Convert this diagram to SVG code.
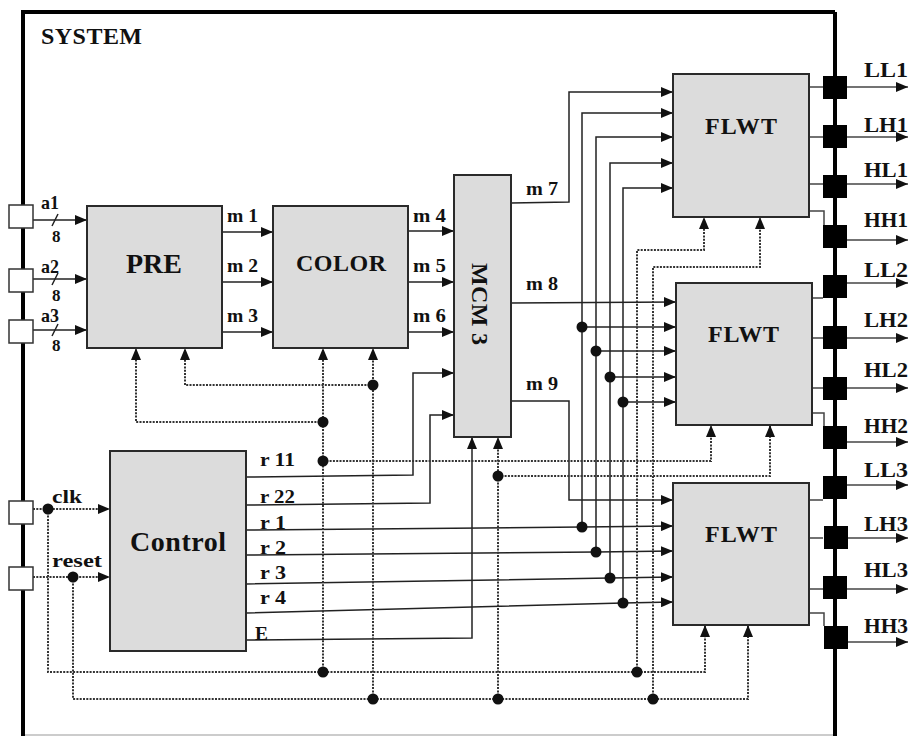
<svg xmlns="http://www.w3.org/2000/svg" width="909" height="736" viewBox="0 0 909 736">
<defs>
<marker id="ah" markerWidth="12" markerHeight="10" refX="12" refY="5" orient="auto" markerUnits="userSpaceOnUse"><path d="M0,0 L12,5 L0,10 z" fill="#111"/></marker>
</defs>
<style>
.blk{fill:#dcdcdc;stroke:#2a2a2a;stroke-width:2}
.w{fill:none;stroke:#222;stroke-width:1.5}
.o{fill:none;stroke:#444;stroke-width:1.5}
.d{fill:none;stroke:#333;stroke-width:2;stroke-dasharray:2 1.3}
.a{marker-end:url(#ah)}
.dot{fill:#111}
.pin{fill:#fff;stroke:#333;stroke-width:1.5}
.sq{fill:#000}
text{font-family:"Liberation Serif","Times New Roman",serif;font-weight:bold;fill:#111}
.big{font-size:24px}
.sm text{font-size:19px}
.out text{font-size:20px}
</style>
<rect x="0" y="0" width="909" height="736" fill="#fff"/>
<g id="system">
<path d="M22,735 H835" stroke="#999" stroke-width="1" fill="none"/>
<path d="M23,736 V12 H835" stroke="#000" stroke-width="4" fill="none"/>
<path d="M835,12 V736" stroke="#000" stroke-width="4" fill="none"/>
<text x="41" y="44" font-size="24" textLength="101">SYSTEM</text>
</g>
<g id="connectors">
<path class="w a" d="M33,220 H87"/>
<path class="w a" d="M33,279 H87"/>
<path class="w a" d="M33,330 H87"/>
<path class="w" d="M52,226 L58,214 M52,285 L58,273 M52,336 L58,324"/>
<path class="w a" d="M222,232 H273"/>
<path class="w a" d="M222,282 H273"/>
<path class="w a" d="M222,332 H273"/>
<path class="w a" d="M408,231 H454"/>
<path class="w a" d="M408,282 H454"/>
<path class="w a" d="M408,332 H454"/>
<path class="w a" d="M246,477 L413,475 V373 H454"/>
<path class="w a" d="M246,505 L430,503 V415 H454"/>
<path class="w a" d="M246,640 L472,638 V437"/>
<path class="w a" d="M246,530 L582,527 L673,526"/>
<path class="w a" d="M582,527 V113 H673"/>
<path class="w a" d="M582,327 H676"/>
<path class="w a" d="M246,555 L596,552 L673,551"/>
<path class="w a" d="M596,552 V137 H673"/>
<path class="w a" d="M596,351 H676"/>
<path class="w a" d="M246,584 L610,578 L673,577"/>
<path class="w a" d="M610,578 V163 H673"/>
<path class="w a" d="M610,377 H676"/>
<path class="w a" d="M246,613 L623,603 L673,602"/>
<path class="w a" d="M623,603 V188 H673"/>
<path class="w a" d="M623,402 H676"/>
<path class="w a" d="M511,203 L569,202 V92 H673"/>
<path class="w a" d="M511,303 L676,302"/>
<path class="w a" d="M511,401 H569 V500 H673"/>
<path class="o" d="M809,87 H823 M809,137 H823 M809,184 H823 M809,211 H824 V225"/>
<path class="o" d="M812,298 H823 M812,338 H823 M812,388 H823 M812,413 H824 V426"/>
<path class="o" d="M809,500 H823 M809,538 H823 M809,589 H823 M809,613 H824 V626"/>
<path class="o a" d="M847,87 H908"/>
<path class="o a" d="M847,137 H908"/>
<path class="o a" d="M847,184 H908"/>
<path class="o a" d="M847,240 H908"/>
<path class="o a" d="M847,283 H908"/>
<path class="o a" d="M847,338 H908"/>
<path class="o a" d="M847,388 H908"/>
<path class="o a" d="M847,442 H908"/>
<path class="o a" d="M847,485 H908"/>
<path class="o a" d="M847,538 H908"/>
<path class="o a" d="M847,589 H908"/>
<path class="o a" d="M847,642 H908"/>
<path class="d a" d="M33,509 H110"/>
<path class="d a" d="M48,509 V672 H705 V625"/>
<path class="d a" d="M33,577 H110"/>
<path class="d a" d="M73,577 V699 H748 V625"/>
<path class="d a" d="M323,672 V348"/>
<path class="d a" d="M323,422 H136 V348"/>
<path class="d a" d="M323,461 H711 V425"/>
<path class="d a" d="M373,699 V348"/>
<path class="d a" d="M373,385 H185 V348"/>
<path class="d a" d="M498,699 V437"/>
<path class="d a" d="M498,476 H770 V425"/>
<path class="d a" d="M637,672 V250 H704 V217"/>
<path class="d a" d="M653,699 V267 H760 V217"/>
<g class="dot">
<circle cx="582" cy="527" r="5.5"/><circle cx="582" cy="327" r="5.5"/>
<circle cx="596" cy="552" r="5.5"/><circle cx="596" cy="351" r="5.5"/>
<circle cx="610" cy="578" r="5.5"/><circle cx="610" cy="377" r="5.5"/>
<circle cx="623" cy="603" r="5.5"/><circle cx="623" cy="402" r="5.5"/>
<circle cx="48" cy="509" r="5.5"/><circle cx="73" cy="577" r="5.5"/>
<circle cx="323" cy="672" r="5.5"/><circle cx="637" cy="672" r="5.5"/>
<circle cx="373" cy="699" r="5.5"/><circle cx="498" cy="699" r="5.5"/>
<circle cx="653" cy="699" r="5.5"/><circle cx="323" cy="422" r="5.5"/>
<circle cx="323" cy="461" r="5.5"/><circle cx="373" cy="385" r="5.5"/>
<circle cx="498" cy="476" r="5.5"/>
</g>
<g class="sm">
<text x="41" y="209" textLength="18" lengthAdjust="spacingAndGlyphs">a1</text>
<text x="41" y="273" textLength="18" lengthAdjust="spacingAndGlyphs">a2</text>
<text x="41" y="322" textLength="18" lengthAdjust="spacingAndGlyphs">a3</text>
<text x="52" y="242" style="font-size:17px">8</text>
<text x="52" y="301" style="font-size:17px">8</text>
<text x="52" y="351" style="font-size:17px">8</text>
<text x="227" y="222" textLength="31" lengthAdjust="spacingAndGlyphs">m 1</text>
<text x="227" y="272" textLength="31" lengthAdjust="spacingAndGlyphs">m 2</text>
<text x="227" y="322" textLength="31" lengthAdjust="spacingAndGlyphs">m 3</text>
<text x="413" y="222" textLength="33" lengthAdjust="spacingAndGlyphs">m 4</text>
<text x="413" y="272" textLength="33" lengthAdjust="spacingAndGlyphs">m 5</text>
<text x="413" y="322" textLength="33" lengthAdjust="spacingAndGlyphs">m 6</text>
<text x="526" y="195" textLength="32" lengthAdjust="spacingAndGlyphs">m 7</text>
<text x="526" y="290" textLength="32" lengthAdjust="spacingAndGlyphs">m 8</text>
<text x="526" y="390" textLength="32" lengthAdjust="spacingAndGlyphs">m 9</text>
<text x="260" y="466" textLength="35" lengthAdjust="spacingAndGlyphs">r 11</text>
<text x="260" y="503" textLength="35" lengthAdjust="spacingAndGlyphs">r 22</text>
<text x="260" y="529" textLength="26" lengthAdjust="spacingAndGlyphs">r 1</text>
<text x="260" y="554" textLength="26" lengthAdjust="spacingAndGlyphs">r 2</text>
<text x="260" y="579" textLength="26" lengthAdjust="spacingAndGlyphs">r 3</text>
<text x="260" y="604" textLength="26" lengthAdjust="spacingAndGlyphs">r 4</text>
<text x="255" y="640" textLength="13" lengthAdjust="spacingAndGlyphs">E</text>
<text x="52" y="503" textLength="30" lengthAdjust="spacingAndGlyphs">clk</text>
<text x="52" y="567" textLength="50" lengthAdjust="spacingAndGlyphs">reset</text>
</g>
<g class="out">
<text x="864" y="77" textLength="44" lengthAdjust="spacingAndGlyphs">LL1</text>
<text x="864" y="132" textLength="44" lengthAdjust="spacingAndGlyphs">LH1</text>
<text x="864" y="177" textLength="44" lengthAdjust="spacingAndGlyphs">HL1</text>
<text x="864" y="227" textLength="44" lengthAdjust="spacingAndGlyphs">HH1</text>
<text x="864" y="277" textLength="44" lengthAdjust="spacingAndGlyphs">LL2</text>
<text x="864" y="327" textLength="44" lengthAdjust="spacingAndGlyphs">LH2</text>
<text x="864" y="377" textLength="44" lengthAdjust="spacingAndGlyphs">HL2</text>
<text x="864" y="433" textLength="44" lengthAdjust="spacingAndGlyphs">HH2</text>
<text x="864" y="477" textLength="44" lengthAdjust="spacingAndGlyphs">LL3</text>
<text x="864" y="531" textLength="44" lengthAdjust="spacingAndGlyphs">LH3</text>
<text x="864" y="577" textLength="44" lengthAdjust="spacingAndGlyphs">HL3</text>
<text x="864" y="633" textLength="44" lengthAdjust="spacingAndGlyphs">HH3</text>
</g>
</g>
<g id="pin-a1"><rect class="pin" x="9" y="205" width="24" height="23"/></g>
<g id="pin-a2"><rect class="pin" x="9" y="269" width="24" height="23"/></g>
<g id="pin-a3"><rect class="pin" x="9" y="320" width="24" height="23"/></g>
<g id="pin-clk"><rect class="pin" x="9" y="501" width="24" height="23"/></g>
<g id="pin-reset"><rect class="pin" x="9" y="567" width="24" height="23"/></g>
<g id="pre"><rect class="blk" x="87" y="206" width="135" height="142"/><text x="126" y="273" font-size="28">PRE</text></g>
<g id="color"><rect class="blk" x="273" y="206" width="135" height="142"/><text class="big" x="296" y="271" textLength="90">COLOR</text></g>
<g id="mcm3"><rect class="blk" x="454" y="175" width="57" height="262"/><text class="big" transform="translate(472,263) rotate(90)" textLength="82">MCM 3</text></g>
<g id="control"><rect class="blk" x="110" y="451" width="136" height="200"/><text x="130" y="551" font-size="28" textLength="96">Control</text></g>
<g id="flwt1"><rect class="blk" x="673" y="74" width="136" height="143"/><text class="big" x="705" y="134" textLength="72">FLWT</text></g>
<g id="flwt2"><rect class="blk" x="676" y="283" width="136" height="142"/><text class="big" x="708" y="342" textLength="71">FLWT</text></g>
<g id="flwt3"><rect class="blk" x="673" y="483" width="136" height="142"/><text class="big" x="705" y="542" textLength="72">FLWT</text></g>
<g id="out-ports">
<rect class="sq" x="823" y="76" width="24" height="23"/>
<rect class="sq" x="823" y="125" width="24" height="23"/>
<rect class="sq" x="823" y="175" width="24" height="23"/>
<rect class="sq" x="823" y="225" width="24" height="23"/>
<rect class="sq" x="823" y="275" width="24" height="23"/>
<rect class="sq" x="823" y="326" width="24" height="23"/>
<rect class="sq" x="823" y="377" width="24" height="23"/>
<rect class="sq" x="823" y="426" width="24" height="23"/>
<rect class="sq" x="823" y="476" width="24" height="23"/>
<rect class="sq" x="824" y="526" width="24" height="23"/>
<rect class="sq" x="823" y="576" width="24" height="23"/>
<rect class="sq" x="824" y="626" width="24" height="23"/>
</g>
</svg>
